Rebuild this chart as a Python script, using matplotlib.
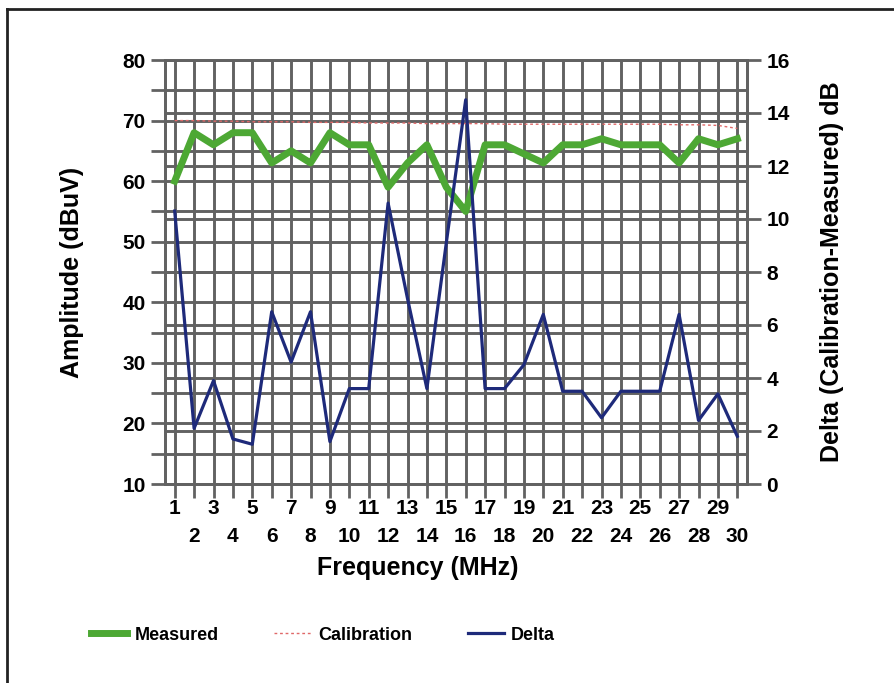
import numpy as np
import matplotlib.pyplot as plt
from matplotlib.transforms import blended_transform_factory
from matplotlib.lines import Line2D

plt.rcParams['font.family'] = ['Liberation Sans', 'DejaVu Sans']
plt.rcParams['font.weight'] = 'bold'

freq = list(range(1, 31))
measured = [60, 68, 66, 68, 68, 63, 65, 63, 68, 66, 66, 59, 63, 66, 59,
            55, 66, 66, 64.5, 63, 66, 66, 67, 66, 66, 66, 63, 67, 66, 67]
calibration = [70.0, 70.0, 69.9, 69.9, 69.8, 69.8, 69.8, 69.7, 69.7, 69.7,
               69.6, 69.6, 69.6, 69.5, 69.5, 69.5, 69.5, 69.4, 69.4, 69.4,
               69.4, 69.4, 69.4, 69.4, 69.4, 69.4, 69.3, 69.3, 69.2, 68.7]
delta = [10.3, 2.1, 3.9, 1.7, 1.5, 6.5, 4.6, 6.5, 1.6, 3.6, 3.6, 10.6, 7.0, 3.6, 9.1,
         14.5, 3.6, 3.6, 4.5, 6.4, 3.5, 3.5, 2.5, 3.5, 3.5, 3.5, 6.4, 2.4, 3.4, 1.8]

left_ticks = list(range(10, 81, 10))
left_minor = list(range(15, 80, 10))
right_ticks = list(range(0, 17, 2))

gridc = '#626262'
green = '#4da834'
navy = '#1e2a7a'
calc = '#e06868'

fig = plt.figure(figsize=(8.94, 6.83), dpi=100)
ax = fig.add_axes([165/894, 1-484/683, 582/894, 424/683])
ax2 = ax.twinx()

ax.set_xlim(0.5, 30.5)
ax.set_ylim(10, 80)
ax2.set_ylim(0, 16)

# x ticks: odd on top row, even on second row
odd = [f for f in freq if f % 2 == 1]
even = [f for f in freq if f % 2 == 0]
ax.set_xticks(odd)
ax.set_xticklabels([str(f) for f in odd])
ax.set_xticks(even, minor=True)
ax.set_xticklabels([str(f) for f in even], minor=True)
ax.set_yticks(left_ticks)
ax.set_yticks(left_minor, minor=True)
ax2.set_yticks(right_ticks)

ax.grid(True, which='both', color=gridc, lw=2.1)
ax.set_axisbelow(True)
# horizontal grid of the right axis, kept behind the lines
tr = blended_transform_factory(ax.transAxes, ax2.transData)
for v in right_ticks:
    ax.plot([0, 1], [v, v], color=gridc, lw=2.1, transform=tr, zorder=0.5)

ax.tick_params(axis='x', which='major', length=10, width=2, color=gridc, pad=0.5, labelsize=15)
ax.tick_params(axis='x', which='minor', length=10, width=2, color=gridc, pad=21, labelsize=15)
ax.tick_params(axis='y', which='both', length=10, width=2, color=gridc, pad=4, labelsize=15)
ax2.tick_params(axis='y', length=10, width=2, color=gridc, pad=4, labelsize=15)
for a in (ax, ax2):
    for s in a.spines.values():
        s.set_color(gridc)
        s.set_linewidth(2)

ax.plot(freq, measured, color=green, lw=5, zorder=3)
ax.plot(freq, calibration, color=calc, lw=1, ls=(0, (2, 2)), zorder=3)
ax2.plot(freq, delta, color=navy, lw=2.3, zorder=3)

ax.set_xlabel('Frequency (MHz)', fontsize=18, fontweight='bold')
ax.xaxis.set_label_coords(0.435, -0.17)
ax.set_ylabel('Amplitude (dBuV)', fontsize=18, fontweight='bold')
ax.yaxis.set_label_coords(-0.139, 0.5)
ax2.set_ylabel('Delta (Calibration-Measured) dB', fontsize=18, fontweight='bold')
ax2.yaxis.set_label_coords(1.125, 0.5)

handles = [Line2D([], [], color=green, lw=5),
           Line2D([], [], color=calc, lw=1, ls=(0, (2, 2))),
           Line2D([], [], color=navy, lw=2.3)]
fig.legend(handles, ['Measured', 'Calibration', 'Delta'], loc='center left',
           bbox_to_anchor=(91/894, 1-635/683), ncol=3, frameon=False,
           fontsize=13, handlelength=2.0, handletextpad=0.4, columnspacing=3.1,
           borderaxespad=0, borderpad=0)

# outer frame (left and top edges only are visible)
fig.add_artist(Line2D([7/894, 7/894], [0, 1-9/683], color='#222222', lw=2, transform=fig.transFigure))
fig.add_artist(Line2D([7/894, 1], [1-9/683, 1-9/683], color='#222222', lw=2, transform=fig.transFigure))

fig.savefig('out.png', dpi=100)
